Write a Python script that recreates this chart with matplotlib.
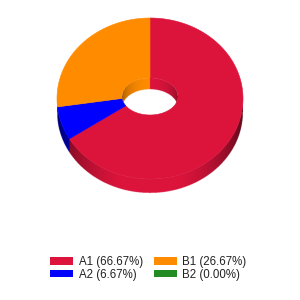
import numpy as np
import matplotlib
matplotlib.use('Agg')
import matplotlib.pyplot as plt
from matplotlib.patches import Polygon, Ellipse, Patch
from matplotlib.colors import to_rgb

# data
labels = ['A1', 'A2', 'B1', 'B2']
values = [10, 1, 4, 0]
colors = ['#DC143C', '#0000FF', '#FF8C00', '#228B22']

# geometry of the 3d donut (pixels)
cx, cy = 150, 98.5
rx, ry = 93, 80.5
depth = 14
hx, hy = 150, 96.5
hrx, hry = 28, 18.5
hdepth = 12

total = sum(values)
pct = [v / total * 100 for v in values]
ends = np.cumsum(values) / total * 2 * np.pi
starts = np.concatenate([[0], ends[:-1]])
rgb = np.array([to_rgb(c) for c in colors])


def seg_of(t):
    t = np.mod(t, 2 * np.pi)
    idx = np.searchsorted(ends, t, side='right')
    return np.clip(idx, 0, len(values) - 1)


def wall_image(x0, x1, y0, y1, ecx, ecy, erx, ery, d, front, fmin, fmax, pw):
    ss = 4
    xs = np.linspace(x0, x1, int((x1 - x0) * ss))
    ys = np.linspace(y0, y1, int((y1 - y0) * ss))
    X, Y = np.meshgrid(xs, ys)
    u = np.clip((X - ecx) / erx, -1, 1)
    cosabs = np.sqrt(1 - u ** 2)
    if front:
        t = np.pi - np.arcsin(u)
        ytop = ecy + ery * cosabs
    else:
        t = np.arcsin(u)
        ytop = ecy - ery * cosabs
    f = fmin + (fmax - fmin) * cosabs ** pw
    f = np.minimum(f, 1)
    col = rgb[seg_of(t)] * f[..., None]
    a = ((Y >= ytop) & (Y <= ytop + d) & (np.abs(X - ecx) <= erx)).astype(float)
    img = np.dstack([col, a])
    return img


fig = plt.figure(figsize=(3, 3), dpi=100)
ax = fig.add_axes([0, 0, 1, 1])
ax.set_xlim(0, 300)
ax.set_ylim(300, 0)
ax.axis('off')

# outer side wall (front half)
img = wall_image(cx - rx, cx + rx, cy, cy + ry + depth + 1, cx, cy, rx, ry, depth,
                 True, 0.42, 1.05, 1.6)
ax.imshow(img, extent=(cx - rx, cx + rx, cy + ry + depth + 1, cy),
          interpolation='antialiased', zorder=1, aspect='auto')

# top face
for s, e, c in zip(starts, ends, colors):
    if e <= s:
        continue
    ts = np.linspace(s, e, 300)
    ox, oy = cx + rx * np.sin(ts), cy - ry * np.cos(ts)
    ix, iy = hx + hrx * np.sin(ts[::-1]), hy - hry * np.cos(ts[::-1])
    pts = np.column_stack([np.concatenate([ox, ix]), np.concatenate([oy, iy])])
    ax.add_patch(Polygon(pts, closed=True, fc=c, ec=c, lw=0.4, zorder=2))

# inner wall of the hole (back half), clipped to the hole
clip = Ellipse((hx, hy), 2 * hrx, 2 * hry, fc='none', ec='none')
ax.add_patch(clip)
img2 = wall_image(hx - hrx, hx + hrx, hy - hry - 1, hy + hdepth + 1, hx, hy, hrx, hry,
                  hdepth, False, 0.6, 1.0, 1.0)
im2 = ax.imshow(img2, extent=(hx - hrx, hx + hrx, hy + hdepth + 1, hy - hry - 1),
                interpolation='antialiased', zorder=3, aspect='auto')
im2.set_clip_path(clip)

ax.set_xlim(0, 300)
ax.set_ylim(300, 0)

# legend
handles = [Patch(fc=c, ec='none') for c in colors]
texts = ['%s (%.2f%%)' % (l, p) for l, p in zip(labels, pct)]
leg = ax.legend(handles, texts, ncol=2,
                loc='center', bbox_to_anchor=(0.494, 0.1057), frameon=False,
                prop={'family': 'Liberation Sans', 'size': 8.3},
                handlelength=2.0, handleheight=0.65, handletextpad=0.45,
                columnspacing=0.95, labelspacing=0.05, labelcolor='#222222')

fig.savefig('out.png', dpi=100, facecolor='white')
